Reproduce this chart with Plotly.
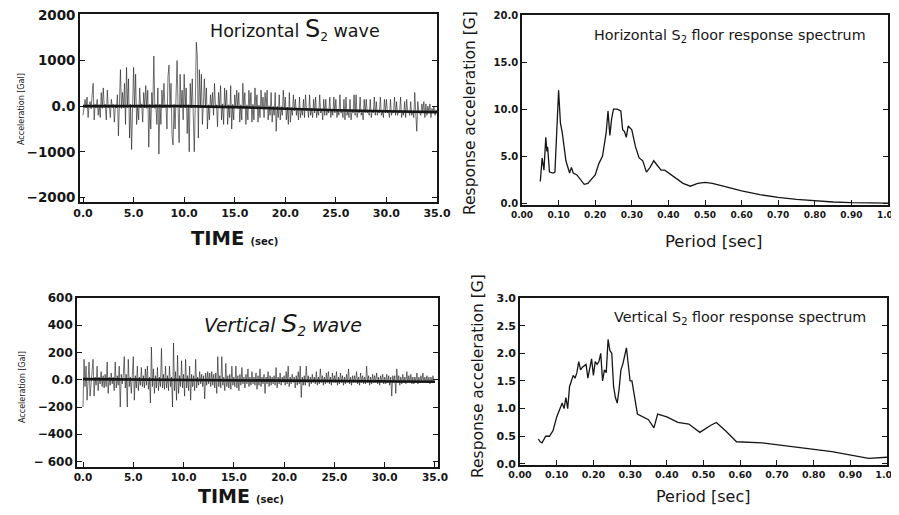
import plotly.graph_objects as go

# ---------------- data ----------------
dt = 0.1
horiz_acc = [
    -200, 40, 150, -40, 200, -250, 30, 100, -60, 250,
    500, -300, 40, -40, 150, -200, 30, -250, 300, -50,
    400, -30, 40, -300, 350, -40, 30, -250, 150, -30,
    40, -350, 30, -40, 250, -650, 40, 800, -50, 300,
    -40, 500, -400, 850, -30, 600, -700, 40, -950, 50,
    850, -40, 700, -400, 30, -300, 400, -40, 50, -350,
    300, -40, 450, -50, 350, -900, 40, -500, 300, -40,
    1100, -50, 40, -400, 400, -1050, 40, -400, 350, -40,
    500, -40, 30, -500, 650, 900, -40, 500, -650, -850,
    40, -500, 600, 1000, -40, -800, 700, -40, 350, -300,
    700, -40, 400, -600, 30, -1000, 500, -40, 600, -300,
    -1000, 40, 1400, 1100, -700, 800, -40, 700, -400, 50,
    600, -40, 400, -500, 30, -300, 250, -40, 300, -200,
    500, -40, 30, -450, 300, -40, 450, -300, 50, -400,
    400, -40, 350, -400, 30, -250, 450, -500, 40, -300,
    250, -40, 350, -50, 300, -350, 30, -300, 500, -40,
    300, -400, 30, -300, 350, -40, 300, -350, 40, -300,
    400, -50, 250, -350, 20, -250, 350, -50, 200, -250,
    300, -60, 350, -300, 10, -200, 300, -350, 0, -200,
    300, -550, 0, -250, 250, -300, -10, -200, 350, -80,
    200, -300, -20, -400, 300, -350, -30, -200, 250, -100,
    150, -200, -40, -300, 200, -250, -40, -200, 150, -250,
    250, -100, -50, -250, 250, -200, -50, -250, 150, -150,
    200, -250, -60, -200, 250, -150, -60, -300, 150, -200,
    150, -200, -60, -150, 200, -250, -70, -200, 200, -150,
    150, -250, -80, -200, 250, -150, -80, -250, 150, -300,
    200, -200, -80, -250, 150, -300, -90, -150, 250, -200,
    250, -250, -90, -150, 200, -200, -90, -300, 150, -150,
    150, -150, -90, -200, 150, -250, -100, -150, 200, -200,
    100, -200, -100, -150, 200, -200, -100, -250, 150, -150,
    150, -150, -100, -250, 150, -200, -110, -150, 200, -200,
    100, -200, -110, -150, 200, -250, -110, -200, 100, -250,
    150, -150, -110, -200, 100, -200, -120, -250, 300, -150,
    -550, 100, -120, -150, -200, 50, -120, 100, -250, 50,
    -200, 0, -130, 50, -250, -50, -130, 0, -200, -80,
    -130,
]
vert_acc = [
    -200, 150, -50, 100, -150, 20, 130, -120, -20, 40,
    150, -120, 20, -40, 100, -80, 20, -30, 60, -50,
    30, -60, 40, -50, 130, -100, 20, -40, 50, -30,
    20, -80, 130, -60, 30, -40, 100, -200, 40, -30,
    30, 170, -60, 40, -200, 150, -50, 20, -100, 30,
    170, -150, 30, -60, 100, -80, 20, -40, 90, -50,
    30, -60, 80, -40, 100, -70, 20, -170, 240, -50,
    80, -100, 30, -60, 90, -80, 20, -50, 230, -60,
    40, -70, 100, -60, 30, -80, 100, -50, 20, -200,
    270, -80, 60, -150, 180, -100, 30, -50, 140, -60,
    40, -120, 150, -60, 30, -80, 100, -150, 40, -50,
    30, -80, 150, -60, 20, -40, 60, -30, 40, -50,
    30, -140, 50, -40, 60, -30, 50, -50, 60, -40,
    40, -60, 50, -100, 170, -50, 30, -60, 170, -40,
    20, -80, 120, -50, 30, -60, 40, -70, 100, -40,
    20, -50, 100, -60, 30, -80, 40, -40, 90, -30,
    20, -60, 40, -30, 80, -50, 20, -40, 60, -30,
    20, -40, 50, -70, 30, -40, 80, -50, 20, -30,
    40, -100, 20, -30, 60, -50, 30, -40, 20, -30,
    30, -40, 90, -60, 20, -30, 50, -40, 20, -20,
    30, -40, 60, -30, 100, -50, 20, -30, 40, -20,
    20, -60, 30, -40, 60, -30, 100, -130, 20, -40,
    30, -40, 100, -20, 30, -50, 20, -30, 40, -20,
    20, -30, 60, -40, 20, -30, 80, -20, 30, -40,
    20, -30, 50, -20, 60, -30, 20, -40, 50, -20,
    30, -20, 60, -40, 20, -30, 50, -20, 30, -40,
    20, -30, 40, -20, 80, -30, 20, -40, 30, -20,
    30, -20, 60, -30, 20, -40, 50, -20, 30, -30,
    20, -30, 100, -20, 30, -40, 20, -30, 40, -20,
    30, -20, 50, -30, 20, -40, 30, -20, 40, -30,
    20, -30, 40, -20, 30, -40, 20, -120, 30, -20,
    30, -100, 80, -20, 30, -40, 20, -30, 40, -20,
    20, -30, 60, -20, 30, -20, 40, -30, 20, -30,
    20, -20, 50, -30, 20, -20, 30, -20, 50, -20,
    20, -20, 30, -20, 20, -30, 20, -20, 30, -20,
    -20,
]
time_h = [i * dt for i in range(len(horiz_acc))]
time_v = [i * dt for i in range(len(vert_acc))]

# slow baseline drift (thick dark band) read from the record
h_base_t = [0, 10, 15, 20, 25, 30, 35]
h_base_v = [0, 0, -20, -60, -90, -110, -130]
v_base_t = [0, 35]
v_base_v = [5, -15]

h_period = [0.05, 0.055, 0.06, 0.065, 0.068, 0.07, 0.075, 0.085, 0.09, 0.095,
            0.10, 0.105, 0.11, 0.12, 0.13, 0.135, 0.14, 0.15, 0.16, 0.17,
            0.18, 0.19, 0.20, 0.21, 0.22, 0.23, 0.235, 0.24, 0.245, 0.25,
            0.26, 0.27, 0.275, 0.28, 0.285, 0.29, 0.30, 0.31, 0.32, 0.33,
            0.34, 0.35, 0.36, 0.37, 0.38, 0.39, 0.40, 0.42, 0.44, 0.46,
            0.48, 0.50, 0.52, 0.55, 0.60, 0.65, 0.70, 0.75, 0.80, 0.85,
            0.90, 0.95, 1.00]
h_resp = [2.3, 4.8, 3.5, 7.0, 5.5, 6.0, 3.3, 3.2, 3.3, 8.0,
          12.0, 8.5, 7.5, 4.5, 3.2, 3.8, 3.2, 3.0, 2.5, 2.0,
          2.1, 2.5, 3.0, 4.2, 5.0, 7.5, 9.8, 7.2, 9.0, 10.0,
          10.0, 9.8, 7.8, 7.6, 7.0, 8.2, 7.8, 6.0, 4.8, 4.5,
          3.3, 3.8, 4.5, 4.0, 3.5, 3.5, 3.2, 2.7, 2.1, 1.8,
          2.1, 2.2, 2.1, 1.8, 1.3, 0.9, 0.6, 0.4, 0.25, 0.12,
          0.05, 0.0, 0.0]

v_period = [0.05, 0.055, 0.06, 0.07, 0.08, 0.09, 0.10, 0.11, 0.115, 0.12,
            0.125, 0.13, 0.135, 0.14, 0.145, 0.15, 0.155, 0.16, 0.165, 0.17,
            0.18, 0.185, 0.19, 0.195, 0.20, 0.205, 0.21, 0.215, 0.22, 0.225,
            0.23, 0.235, 0.24, 0.245, 0.25, 0.255, 0.26, 0.265, 0.27, 0.275,
            0.28, 0.29, 0.30, 0.305, 0.32, 0.35, 0.365, 0.375, 0.40, 0.43,
            0.46, 0.49, 0.52, 0.535, 0.56, 0.59, 0.66, 0.75, 0.85, 0.95, 1.00]
v_resp = [0.45, 0.40, 0.38, 0.50, 0.50, 0.60, 0.85, 1.00, 1.10, 1.00,
          1.20, 1.00, 1.40, 1.50, 1.60, 1.55, 1.65, 1.85, 1.70, 1.75,
          1.80, 1.55, 1.75, 1.90, 1.60, 1.85, 1.80, 1.85, 2.00, 1.50,
          1.70, 1.65, 2.25, 2.05, 2.00, 1.40, 1.20, 1.10, 1.35, 1.70,
          1.80, 2.10, 1.50, 1.50, 0.90, 0.80, 0.65, 0.90, 0.85, 0.75,
          0.72, 0.57, 0.70, 0.75, 0.60, 0.40, 0.38, 0.30, 0.22, 0.10, 0.12]

tl_yvals = [-2000, -1000, 0, 1000, 2000]
tl_ytext = ["\u22122000", "\u22121000", "0.0", "1000", "2000"]
time_ticks = [0, 5, 10, 15, 20, 25, 30, 35]
time_text = ["0.0", "5.0", "10.0", "15.0", "20.0", "25.0", "30.0", "35.0"]
tr_yvals = [0, 5, 10, 15, 20]
tr_ytext = ["0.0", "5.0", "10.0", "15.0", "20.0"]
per_ticks = [0.0, 0.1, 0.2, 0.3, 0.4, 0.5, 0.6, 0.7, 0.8, 0.9, 1.0]
per_text = ["0.00", "0.10", "0.20", "0.30", "0.40", "0.50", "0.60", "0.70", "0.80", "0.90", "1.00"]
bl_yvals = [-600, -400, -200, 0, 200, 400, 600]
bl_ytext = ["\u2212 600", "\u2212400", "\u2212200", "0.0", "200", "400", "600"]
br_yvals = [0, 0.5, 1.0, 1.5, 2.0, 2.5, 3.0]
br_ytext = ["0.0", "0.5", "1.0", "1.5", "2.0", "2.5", "3.0"]

# ---------------- figure ----------------
OFF = 8             # page body margin of the html page
W, H = 891, 499
INK = "#161616"
FONT = "DejaVu Sans, Verdana, sans-serif"


def xd(a, b):
    return [(a - OFF) / W, (b - OFF) / W]


def yd(top, bottom):
    return [1 - (bottom - OFF) / H, 1 - (top - OFF) / H]


def bold(lst):
    return ["<b>" + s + "</b>" for s in lst]


fig = go.Figure()
fig.add_trace(go.Scatter(x=time_h, y=horiz_acc, mode="lines", line=dict(color=INK, width=0.6),
                         xaxis="x", yaxis="y", showlegend=False))
fig.add_trace(go.Scatter(x=h_base_t, y=h_base_v, mode="lines", line=dict(color=INK, width=2.6),
                         xaxis="x", yaxis="y", showlegend=False))
fig.add_trace(go.Scatter(x=h_period, y=h_resp, mode="lines", line=dict(color=INK, width=1.3),
                         xaxis="x2", yaxis="y2", showlegend=False))
fig.add_trace(go.Scatter(x=time_v, y=vert_acc, mode="lines", line=dict(color=INK, width=0.6),
                         xaxis="x3", yaxis="y3", showlegend=False))
fig.add_trace(go.Scatter(x=v_base_t, y=v_base_v, mode="lines", line=dict(color=INK, width=2.6),
                         xaxis="x3", yaxis="y3", showlegend=False))
fig.add_trace(go.Scatter(x=v_period, y=v_resp, mode="lines", line=dict(color=INK, width=1.3),
                         xaxis="x4", yaxis="y4", showlegend=False))


def axis(size, **kw):
    d = dict(showline=True, linecolor=INK, linewidth=1.6, showgrid=False, automargin=False,
             zeroline=False, ticks="inside", ticklen=5, tickwidth=1.3, tickcolor=INK,
             ticklabeloverflow="allow",
             tickfont=dict(family=FONT, size=size, color=INK))
    d.update(kw)
    return d


fig.update_layout(
    width=W, height=H, margin=dict(l=0, r=0, t=0, b=0, autoexpand=False),
    paper_bgcolor="white", plot_bgcolor="white",
    font=dict(family=FONT, color=INK),
    xaxis=axis(11, domain=xd(80, 437), anchor="y", range=[-0.3, 35], tickvals=time_ticks,
               ticktext=bold(time_text), mirror=True),
    yaxis=axis(13.5, domain=yd(14, 202), anchor="x", range=[-2100, 2020], tickvals=tl_yvals,
               ticktext=bold(tl_ytext), mirror="ticks"),
    xaxis2=axis(9, domain=xd(522, 888), anchor="y2", range=[0, 1.0], tickvals=per_ticks,
                ticktext=bold(per_text), mirror=True),
    yaxis2=axis(10, domain=yd(15, 205), anchor="x2", range=[-0.2, 20], tickvals=tr_yvals,
                ticktext=bold(tr_ytext), mirror="ticks"),
    xaxis3=axis(10.5, domain=xd(77, 438), anchor="y3", range=[-0.6, 35.3], tickvals=time_ticks,
                ticktext=bold(time_text), mirror=True),
    yaxis3=axis(12, domain=yd(298, 467), anchor="x3", range=[-640, 600], tickvals=bl_yvals,
                ticktext=bold(bl_ytext), mirror="ticks"),
    xaxis4=axis(9.5, domain=xd(520, 887), anchor="y4", range=[0, 1.0], tickvals=per_ticks,
                ticktext=bold(per_text), mirror=True),
    yaxis4=axis(11, domain=yd(298, 465), anchor="x4", range=[-0.02, 3.0], tickvals=br_yvals,
                ticktext=bold(br_ytext), mirror="ticks"),
)


def ann(text, x, y, size, angle=0, family=FONT):
    fig.add_annotation(text=text, x=(x - OFF) / W, y=1 - (y - OFF) / H, xref="paper", yref="paper",
                       showarrow=False, textangle=angle, xanchor="center", yanchor="middle",
                       font=dict(family=family, size=size, color=INK))


# axis titles
ann("Acceleration [Gal]", 22, 109, 8, angle=-90)
ann("Acceleration [Gal]", 22, 387, 8, angle=-90)
ann("<b>TIME</b> <b><span style='font-size:10px'>(sec)</span></b>", 234, 238, 19.5)
ann("<b>TIME</b> <b><span style='font-size:10px'>(sec)</span></b>", 241, 496, 19)
ann("Response acceleration [G]", 470, 113, 15.5, angle=-90)
ann("Response acceleration [G]", 478, 376, 15.5, angle=-90)
ann("Period [sec]", 713, 241, 16.5)
ann("Period [sec]", 703, 496, 16)

# in-plot labels
ann("Horizontal <span style='font-size:24px'>S</span><sub>2</sub> wave", 295, 29, 17.5)
ann("<i>Vertical <span style='font-size:25px'>S</span><sub>2</sub> wave</i>", 283, 324, 19)
ann("Horizontal S<sub>2</sub> floor response spectrum", 730, 36, 14.3)
ann("Vertical S<sub>2</sub> floor response spectrum", 740, 318, 14.3)

fig.write_html("out.html")
